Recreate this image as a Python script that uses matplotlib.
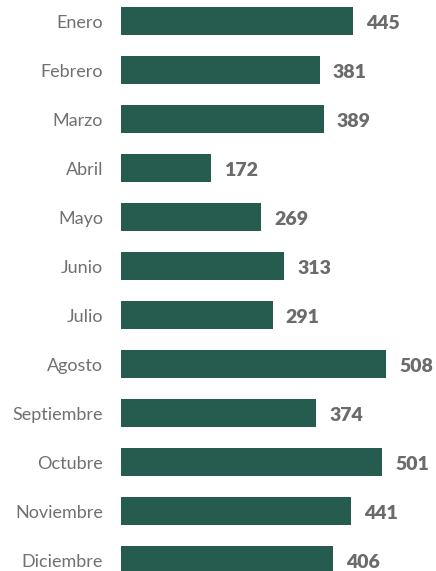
import matplotlib
matplotlib.use("Agg")
import matplotlib.pyplot as plt

meses = ["Enero", "Febrero", "Marzo", "Abril", "Mayo", "Junio", "Julio",
         "Agosto", "Septiembre", "Octubre", "Noviembre", "Diciembre"]
valores = [445, 381, 389, 172, 269, 313, 291, 508, 374, 501, 441, 406]

plt.rcParams['font.family'] = ['Lato', 'DejaVu Sans']

fig = plt.figure(figsize=(4.36, 5.71), dpi=100)
ax = fig.add_axes([121 / 436, 0, 315 / 436, 1])

pos = list(range(len(meses)))
ax.barh(pos, valores, height=0.57, color="#265c4f")

for y, v in zip(pos, valores):
    ax.text(v + 25, y + 0.06, str(v), ha="left", va="center",
            fontsize=14, fontweight="heavy", color="#6b6b6b")

ax.set_yticks(pos)
ax.set_yticklabels(meses, fontsize=13, color="#707070")
ax.tick_params(axis="y", length=0, pad=13)
ax.set_xticks([])
ax.set_xlim(0, 604)
ax.set_ylim(11.224, -0.4286)
for s in ax.spines.values():
    s.set_visible(False)

fig.savefig("out.png", dpi=100)
